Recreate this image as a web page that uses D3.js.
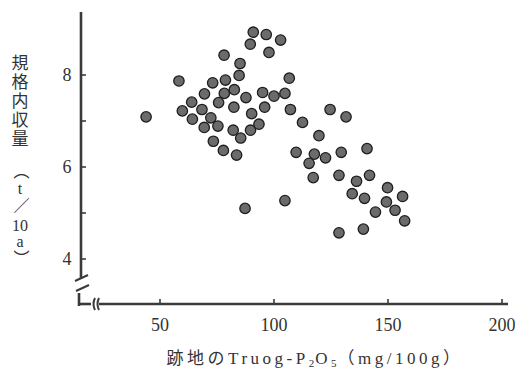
<!DOCTYPE html>
<html><head><meta charset="utf-8">
<script src="https://cdn.jsdelivr.net/npm/d3@7"></script>
<style>body{margin:0;background:#fff}svg{display:block}</style>
</head><body>
<svg id="c" width="515" height="374"></svg>
<script>
// Truog-P2O5 (mg/100g) after crop
const phosphate = [90.9,96.6,102.9,89.6,97.8,78.1,85.1,58.3,84.7,106.7,73.1,78.7,69.5,78.2,82.6,87.7,95.0,100.0,104.8,63.9,75.7,82.4,95.9,107.2,124.6,43.9,59.8,68.4,72.3,64.2,90.2,112.5,69.4,75.4,82.1,89.7,93.4,85.4,119.7,73.4,77.8,83.6,109.7,117.7,122.6,115.4,117.2,104.8,87.3,131.6,129.5,140.8,128.5,136.2,141.9,149.8,134.3,139.7,149.3,156.4,144.5,153.1,157.3,128.5,139.2];
// marketable yield (t/10a)
const yieldVals = [8.93,8.88,8.76,8.67,8.49,8.43,8.25,7.87,7.99,7.93,7.83,7.89,7.59,7.60,7.68,7.51,7.62,7.54,7.60,7.41,7.40,7.30,7.30,7.25,7.25,7.09,7.22,7.25,7.07,7.04,7.16,6.97,6.86,6.89,6.80,6.80,6.93,6.63,6.68,6.56,6.36,6.26,6.32,6.28,6.20,6.08,5.77,5.27,5.10,7.09,6.32,6.40,5.82,5.69,5.82,5.55,5.42,5.32,5.24,5.36,5.02,5.06,4.83,4.57,4.65];
const xTicks = [50,100,150,200];
const yTicks = [4,5,6,7,8];
const yTickLabels = [4,6,8];
const xTitle = ["跡地のTruog‐P","2","O","5","（mg/100g）"];
const yTitleParts = ["規格内収量","（t／","10","a）"];

const svg = d3.select("#c");
const x = d3.scaleLinear().domain([50,200]).range([160,502]);
const y = d3.scaleLinear().domain([4,8]).range([259,75]);
const axisX = 81, baseY = 304;
const ink = "#3a3a3a";
const serif = "'Liberation Serif','DejaVu Serif','Noto Sans CJK JP',serif";
const cjk = "'Noto Sans CJK JP',sans-serif";

// Y axis
svg.append("line").attr("x1",axisX).attr("x2",axisX).attr("y1",12).attr("y2",y(4)+20)
  .attr("stroke",ink).attr("stroke-width",2.6);
svg.selectAll(".yt").data(yTicks).join("line")
  .attr("x1",axisX).attr("x2",axisX+5).attr("y1",d=>y(d)).attr("y2",d=>y(d))
  .attr("stroke",ink).attr("stroke-width",1.6);
svg.selectAll(".yl").data(yTickLabels).join("text")
  .attr("x",67).attr("y",d=>y(d)).attr("dy","0.35em").attr("text-anchor","middle")
  .attr("font-family",serif).attr("font-size",18).attr("fill","#333").text(d=>d);

// break marks
const brk = svg.append("g").attr("stroke",ink).attr("stroke-width",2).attr("fill","none");
brk.append("line").attr("x1",75).attr("y1",281).attr("x2",88).attr("y2",275);
brk.append("line").attr("x1",76).attr("y1",291).attr("x2",89).attr("y2",285);
brk.append("line").attr("x1",axisX-2).attr("x2",axisX-2).attr("y1",293).attr("y2",baseY+2).attr("stroke-width",2.6);
brk.append("line").attr("x1",axisX-2).attr("x2",91).attr("y1",baseY).attr("y2",baseY).attr("stroke-width",2.6);
brk.append("path").attr("d",`M95,${baseY-6} Q92,${baseY} 95,${baseY+6}`);
brk.append("path").attr("d",`M99,${baseY-6} Q96,${baseY} 99,${baseY+6}`);

// X axis
svg.append("line").attr("x1",99).attr("x2",508).attr("y1",baseY).attr("y2",baseY)
  .attr("stroke",ink).attr("stroke-width",2.6);
svg.selectAll(".xt").data(xTicks).join("line")
  .attr("x1",d=>x(d)).attr("x2",d=>x(d)).attr("y1",baseY).attr("y2",baseY-5)
  .attr("stroke",ink).attr("stroke-width",1.6);
svg.selectAll(".xl").data(xTicks).join("text")
  .attr("x",d=>x(d)).attr("y",325).attr("dy","0.35em").attr("text-anchor","middle")
  .attr("font-family",serif).attr("font-size",18).attr("fill","#333").text(d=>d);

// X title
const xt = svg.append("text").attr("x",315).attr("y",364).attr("text-anchor","middle")
  .attr("font-family",serif).attr("font-size",17).attr("letter-spacing",3.5).attr("fill","#333");
xt.append("tspan").text(xTitle[0]);
xt.append("tspan").attr("font-size",11).attr("dy",3).attr("letter-spacing",1).text(xTitle[1]);
xt.append("tspan").attr("dy",-3).text(xTitle[2]);
xt.append("tspan").attr("font-size",11).attr("dy",3).attr("letter-spacing",1).text(xTitle[3]);
xt.append("tspan").attr("dy",-3).text(xTitle[4]);

// Y title (vertical writing)
const vt = (txt, y0, fs, ls, fam) => svg.append("text")
  .attr("x",20).attr("y",y0)
  .style("writing-mode","vertical-rl").style("text-orientation","upright")
  .attr("font-family",fam).attr("font-size",fs).attr("letter-spacing",ls)
  .attr("fill","#333").text(txt);
vt(yTitleParts[0],54,17,2,cjk);
vt(yTitleParts[1],163,16,0.5,serif);
svg.append("text").attr("x",20).attr("y",225).attr("dy","0.35em").attr("text-anchor","middle")
  .attr("font-family",serif).attr("font-size",16).attr("fill","#333").text(yTitleParts[2]);
vt(yTitleParts[3],233,16,0,serif);

// points
svg.append("g").selectAll("circle").data(phosphate.map((p,i)=>[p,yieldVals[i]])).join("circle")
  .attr("cx",d=>x(d[0])).attr("cy",d=>y(d[1])).attr("r",5.2)
  .attr("fill","#6b6b6b").attr("stroke","#1e1e1e").attr("stroke-width",1.3);
</script>
</body></html>
